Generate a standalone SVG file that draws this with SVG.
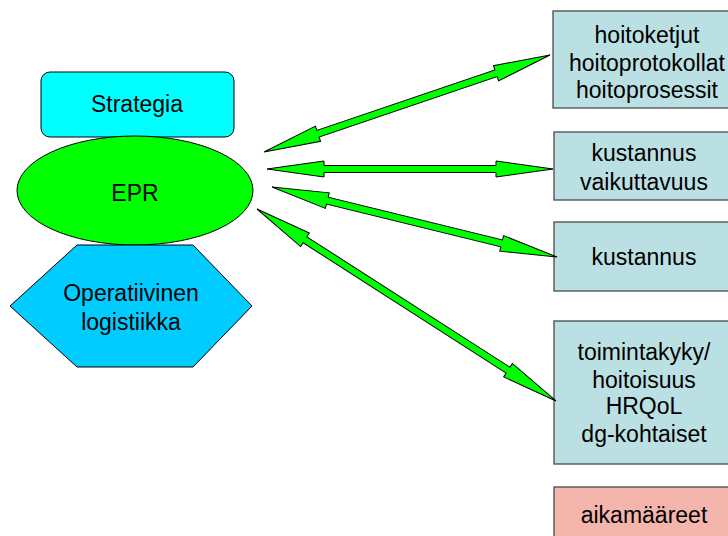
<svg xmlns="http://www.w3.org/2000/svg" width="728" height="536" viewBox="0 0 728 536">
<style>
text{font-family:"Liberation Sans",Arial,sans-serif;font-size:23px;fill:#000;text-anchor:middle}
.box{fill:#BBE0E3;stroke:#4a4a4a;stroke-width:1.3}
.arr{fill:#00FF00;stroke:#000;stroke-width:1}
</style>
<rect width="728" height="536" fill="#fff"/>
<g id="strategia">
<rect x="41" y="72" width="193" height="65" rx="9" fill="#00FFFF" stroke="#000" stroke-width="1"/>
<text x="137" y="112">Strategia</text>
</g>
<g id="epr">
<ellipse cx="135" cy="190.5" rx="118" ry="54.5" fill="#00FF00" stroke="#000" stroke-width="1"/>
<text x="135" y="201">EPR</text>
</g>
<g id="operatiivinen">
<polygon points="77,245 193,245 252,306 193,367 77,367 10,306" fill="#00CCFF" stroke="#000" stroke-width="1"/>
<text x="131" y="301">Operatiivinen</text>
<text x="131" y="330">logistiikka</text>
</g>
<g id="hoitoketjut">
<rect class="box" x="553" y="11" width="190" height="97"/>
<text x="647" y="43">hoitoketjut</text>
<text x="647" y="70.5">hoitoprotokollat</text>
<text x="647" y="98">hoitoprosessit</text>
</g>
<g id="kustannusvaikuttavuus">
<rect class="box" x="554" y="132" width="190" height="68"/>
<text x="644" y="161">kustannus</text>
<text x="644" y="190">vaikuttavuus</text>
</g>
<g id="kustannus">
<rect class="box" x="554" y="222" width="190" height="69"/>
<text x="644" y="265">kustannus</text>
</g>
<g id="toimintakyky">
<rect class="box" x="554" y="321" width="190" height="143"/>
<text x="644" y="360">toimintakyky/</text>
<text x="644" y="388">hoitoisuus</text>
<text x="644" y="414">HRQoL</text>
<text x="644" y="442">dg-kohtaiset</text>
</g>
<g id="aikamaareet">
<rect x="554" y="487" width="190" height="60" fill="#F4B6AC" stroke="#4a4a4a" stroke-width="1.3"/>
<text x="644" y="523">aikamääreet</text>
</g>
<g id="connectors">
<polygon class="arr" transform="translate(264,152) rotate(-18.73)" points="0,0 57,-8 57,-3.5 245,-3.5 245,-8 302,0 245,8 245,3.5 57,3.5 57,8"/>
<polygon class="arr" transform="translate(267,169) rotate(0)" points="0,0 57,-8 57,-3.5 229,-3.5 229,-8 286,0 229,8 229,3.5 57,3.5 57,8"/>
<polygon class="arr" transform="translate(272,187) rotate(13.8)" points="0,0 57,-8 57,-3.5 236.5,-3.5 236.5,-8 293.5,0 236.5,8 236.5,3.5 57,3.5 57,8"/>
<polygon class="arr" transform="translate(257,209) rotate(32.7)" points="0,0 57,-8 57,-3.5 298.3,-3.5 298.3,-8 355.3,0 298.3,8 298.3,3.5 57,3.5 57,8"/>
</g>
</svg>
